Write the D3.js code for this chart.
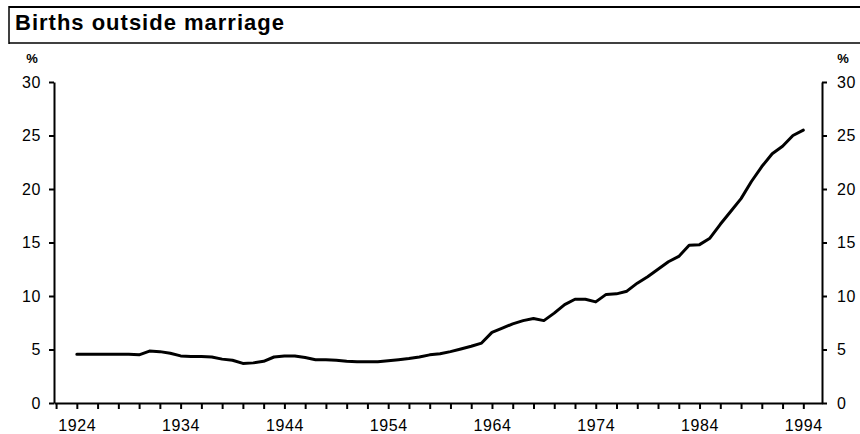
<!DOCTYPE html>
<html>
<head>
<meta charset="utf-8">
<script src="https://cdn.jsdelivr.net/npm/d3@7/dist/d3.min.js"></script>
<style>
  html, body { margin: 0; padding: 0; background: #fff; }
  svg { display: block; font-family: "Liberation Sans", Arial, sans-serif; }
</style>
</head>
<body>
<svg id="chart" width="860" height="434"></svg>
<script>
// data
const years = d3.range(1924, 1995)
const births_outside = [
  4.55, 4.55, 4.55, 4.55, 4.55, 4.55, 4.5, 4.85, 4.8, 4.65,
  4.4, 4.35, 4.35, 4.3, 4.1, 4.0, 3.7, 3.75, 3.9, 4.3,
  4.4, 4.4, 4.25, 4.05, 4.05, 4.0, 3.9, 3.86, 3.86, 3.86,
  3.95, 4.05, 4.15, 4.3, 4.5, 4.6, 4.8, 5.05, 5.3, 5.6,
  6.6, 7.0, 7.4, 7.7, 7.9, 7.7, 8.4, 9.2, 9.7, 9.7,
  9.45, 10.15, 10.2, 10.45, 11.2, 11.8, 12.5, 13.2, 13.7, 14.75,
  14.8, 15.4, 16.7, 17.9, 19.1, 20.7, 22.1, 23.3, 24.0, 25.0,
  25.5
]
const y_ticks = [0, 5, 10, 15, 20, 25, 30]
const x_minor_ticks = d3.range(1922, 1995, 2)
const x_labels = [1924, 1934, 1944, 1954, 1964, 1974, 1984, 1994]
const title = "Births outside marriage"

const svg = d3.select("#chart")

// title box
svg.append("line")
  .attr("x1", 9).attr("x2", 860).attr("y1", 7).attr("y2", 7)
  .attr("stroke", "#000").attr("stroke-width", 2)
svg.append("line")
  .attr("x1", 9).attr("x2", 860).attr("y1", 43).attr("y2", 43)
  .attr("stroke", "#000").attr("stroke-width", 1.5)
svg.append("line")
  .attr("x1", 9).attr("x2", 9).attr("y1", 6).attr("y2", 44)
  .attr("stroke", "#000").attr("stroke-width", 1.5)
svg.append("text")
  .attr("x", 15).attr("y", 30)
  .attr("font-size", "22px").attr("font-weight", "bold")
  .attr("letter-spacing", "1px")
  .text(title)

const x = d3.scaleLinear().domain([1921.8, 1995.8]).range([54, 822])
const y = d3.scaleLinear().domain([0, 30]).range([403, 82])

// left axis
svg.append("g")
  .attr("transform", "translate(54,0)")
  .call(d3.axisLeft(y).tickValues(y_ticks).tickSize(5).tickPadding(8).tickSizeOuter(0))

// right axis
svg.append("g")
  .attr("transform", "translate(822,0)")
  .call(d3.axisRight(y).tickValues(y_ticks).tickSize(5).tickPadding(10).tickSizeOuter(0))

// bottom axis, small tick every 2 years
svg.append("g")
  .attr("transform", "translate(0,403)")
  .call(d3.axisBottom(x).tickValues(x_minor_ticks).tickSize(6).tickPadding(11).tickSizeOuter(0)
    .tickFormat(d => x_labels.includes(d) ? d : ""))

svg.selectAll(".tick text")
  .attr("font-size", "16px")
  .attr("letter-spacing", "0.6px")
  .attr("font-family", "\"Liberation Sans\", Arial, sans-serif")
  .attr("fill", "#000")
svg.selectAll(".domain, .tick line")
  .attr("stroke", "#000").attr("stroke-width", 2)

// % unit labels
svg.append("text").attr("x", 32).attr("y", 63)
  .attr("text-anchor", "middle").attr("font-size", "13px").attr("font-weight", "bold")
  .text("%")
svg.append("text").attr("x", 843).attr("y", 63)
  .attr("text-anchor", "middle").attr("font-size", "13px").attr("font-weight", "bold")
  .text("%")

// the series
const line = d3.line()
  .x((d, i) => x(years[i]))
  .y(d => y(d))

svg.append("path")
  .datum(births_outside)
  .attr("d", line)
  .attr("fill", "none")
  .attr("stroke", "#000")
  .attr("stroke-width", 3)
  .attr("stroke-linejoin", "round")
  .attr("stroke-linecap", "round")
</script>
</body>
</html>
